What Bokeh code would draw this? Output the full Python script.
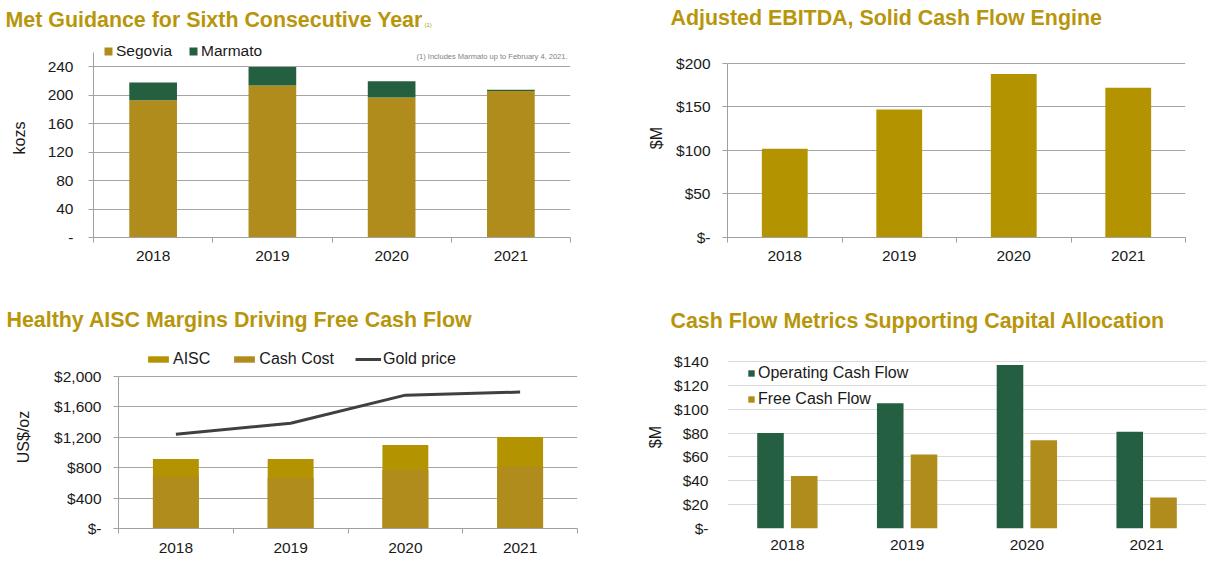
from bokeh.plotting import figure
from bokeh.models import Range1d, FixedTicker, Label, Legend, LegendItem, ColumnDataSource
from bokeh.layouts import column, row
from bokeh.transform import dodge
from bokeh.embed import file_html
from bokeh.resources import INLINE

# ---------------- data ----------------
years = ["2018", "2019", "2020", "2021"]

segovia = [193, 214, 197, 206]
marmato = [25, 26, 23, 2]

ebitda = [102, 147, 188, 172]

aisc = [915, 915, 1100, 1205]
cash_cost = [680, 665, 770, 820]
gold_price = [1240, 1385, 1755, 1795]

ocf = [80, 105, 137, 81]
fcf = [44, 62, 74, 26]

p1_ticks = [0, 40, 80, 120, 160, 200, 240]
p1_tick_labels = ["-", "40", "80", "120", "160", "200", "240"]
p2_ticks = [0, 50, 100, 150, 200]
p2_tick_labels = ["$-", "$50", "$100", "$150", "$200"]
p3_ticks = [0, 400, 800, 1200, 1600, 2000]
p3_tick_labels = ["$-", "$400", "$800", "$1,200", "$1,600", "$2,000"]
p4_ticks = [0, 20, 40, 60, 80, 100, 120, 140]
p4_tick_labels = ["$-", "$20", "$40", "$60", "$80", "$100", "$120", "$140"]

titles = ["Met Guidance for Sixth Consecutive Year",
          "Adjusted EBITDA, Solid Cash Flow Engine",
          "Healthy AISC Margins Driving Free Cash Flow",
          "Cash Flow Metrics Supporting Capital Allocation"]
footnote_mark = "(1)"
note = "(1) Includes Marmato up to February 4, 2021."

# ---------------- styles ----------------
FONT = "Liberation Sans"
GOLD_TITLE = "#B8960C"
SEG = "#AF8C1C"
MAR = "#24603F"
EBIT = "#B39300"
GREEN = "#245F42"
GRID = "#A6A6A6"
AXIS = "#A0A0A0"
TXT = "#1a1a1a"

xpos = [i + 0.5 for i in range(len(years))]
bounds = list(range(len(years) + 1))
xlabels = dict(zip(xpos, years))


def make_fig(w, h, left, right, top, bottom, yend, ybound, ticks, tlabels, ylab,
             ylab_standoff, ytick_standoff, xlab_standoff, axes=True, grid=GRID):
    p = figure(width=w, height=h, x_range=Range1d(0, len(years)),
               y_range=Range1d(0, yend), output_backend="svg",
               toolbar_location=None, min_border_left=left,
               min_border_right=right, min_border_top=top,
               min_border_bottom=bottom, outline_line_color=None)
    p.title.text = ""
    p.title.visible = False
    p.xgrid.visible = False
    p.ygrid.grid_line_color = grid
    p.ygrid.grid_line_width = 1
    # y axis
    ya = p.yaxis[0]
    ya.ticker = FixedTicker(ticks=ticks)
    ya.bounds = (0, ybound)
    ya.major_label_overrides = dict(zip(ticks, tlabels))
    ya.major_label_text_font = FONT
    ya.major_label_text_font_size = "15.5px"
    ya.major_label_text_color = TXT
    ya.major_label_standoff = ytick_standoff
    ya.minor_tick_line_color = None
    ya.major_tick_in = 0
    ya.axis_label = ylab
    ya.axis_label_text_font = FONT
    ya.axis_label_text_font_size = "16px"
    ya.axis_label_text_font_style = "normal"
    ya.axis_label_text_color = TXT
    ya.axis_label_standoff = ylab_standoff
    # x axis
    xa = p.xaxis[0]
    xa.ticker = FixedTicker(ticks=xpos, minor_ticks=bounds)
    xa.major_label_overrides = xlabels
    xa.major_label_text_font = FONT
    xa.major_label_text_font_size = "15.5px"
    xa.major_label_text_color = TXT
    xa.major_label_standoff = xlab_standoff
    xa.major_tick_in = 0
    xa.major_tick_out = 0
    xa.major_tick_line_color = None
    if axes:
        ya.axis_line_color = AXIS
        ya.major_tick_line_color = AXIS
        ya.major_tick_out = 5
        xa.axis_line_color = AXIS
        xa.minor_tick_line_color = AXIS
        xa.minor_tick_in = 0
        xa.minor_tick_out = 5
    else:
        ya.axis_line_color = None
        ya.major_tick_line_color = None
        ya.major_tick_out = 0
        xa.axis_line_color = None
        xa.minor_tick_line_color = None
    return p


def add_title(p, text, x, y):
    p.add_layout(Label(x=x, y=y, x_units="screen", y_units="screen", text=text,
                       text_font=FONT, text_font_size="21.4px",
                       text_font_style="bold", text_color=GOLD_TITLE,
                       text_baseline="alphabetic"), "above")


def style_legend(lg, size, gw, gh, standoff, spacing, lh):
    lg.border_line_color = None
    lg.background_fill_alpha = 0
    lg.padding = 0
    lg.margin = 0
    lg.label_text_font = FONT
    lg.label_text_font_size = size
    lg.label_text_color = TXT
    lg.glyph_width = gw
    lg.glyph_height = gh
    lg.label_standoff = standoff
    lg.spacing = spacing
    lg.label_height = lh


# ---------------- panel 1 ----------------
p1 = make_fig(600, 283, 93, 30, 38, 46, 280, 260, p1_ticks, p1_tick_labels, "kozs",
              17, 15, 8)
src1 = ColumnDataSource(dict(x=xpos, segovia=segovia, marmato=marmato))
r1 = p1.vbar_stack(["segovia", "marmato"], x="x", width=0.4, source=src1,
                   color=[SEG, MAR], line_color=None)
lg1 = Legend(items=[LegendItem(label="Segovia", renderers=[r1[0]]),
                    LegendItem(label="Marmato", renderers=[r1[1]])],
             orientation="horizontal", location=(10, 177))
style_legend(lg1, "15.5px", 10, 10, 3, 16, 18)
p1.add_layout(lg1)
p1.add_layout(Label(x=331, y=14, x_units="screen", y_units="screen",
                    text=footnote_mark, text_font=FONT, text_font_size="6px",
                    text_color=GOLD_TITLE, text_baseline="alphabetic"), "above")
add_title(p1, titles[0], -88, 12.5)
p1.add_layout(Label(x=474, y=181, x_units="screen", y_units="screen", text=note,
                    text_font=FONT, text_font_size="7.5px", text_color="#7F7F7F",
                    text_align="right", text_baseline="alphabetic"))

# ---------------- panel 2 ----------------
p2 = make_fig(606, 283, 127, 21, 38, 46, 228.7, 200, p2_ticks, p2_tick_labels, "$M",
              8, 12, 8)
src2 = ColumnDataSource(dict(x=xpos, ebitda=ebitda))
p2.vbar(x="x", top="ebitda", width=0.4, source=src2, color=EBIT, line_color=None)
add_title(p2, titles[1], -57, 20.5)

# ---------------- panel 3 ----------------
p3 = make_fig(600, 284, 118, 23, 62, 39, 2408, 2000, p3_ticks, p3_tick_labels, "US$/oz",
              19, 12, 9)
src3 = ColumnDataSource(dict(x=xpos, aisc=aisc, cash=cash_cost, gold=gold_price))
ra = p3.vbar(x="x", top="aisc", width=0.4, source=src3, color=EBIT, line_color=None)
rc = p3.vbar(x="x", top="cash", width=0.4, source=src3, color=SEG, line_color=None)
rg = p3.line(x="x", y="gold", source=src3, line_color="#404040", line_width=3)
lg3 = Legend(items=[LegendItem(label="AISC", renderers=[ra]),
                    LegendItem(label="Cash Cost", renderers=[rc]),
                    LegendItem(label="Gold price", renderers=[rg])],
             orientation="horizontal", location=(27, 160))
style_legend(lg3, "16px", 26, 8, 2, 21, 18)
p3.add_layout(lg3)
add_title(p3, titles[2], -112, 25.5)

# ---------------- panel 4 ----------------
p4 = make_fig(606, 284, 127, 0, 62, 39, 153.4, 140, p4_ticks, p4_tick_labels, "$M",
              7, 19, 7, axes=False, grid="#D9D9D9")
src4 = ColumnDataSource(dict(x=xpos, ocf=ocf, fcf=fcf))
ro = p4.vbar(x=dodge("x", -0.141), top="ocf", width=0.222, source=src4,
             color=GREEN, line_color=None)
rf = p4.vbar(x=dodge("x", 0.141), top="fcf", width=0.222, source=src4,
             color=SEG, line_color=None)
lg4 = Legend(items=[LegendItem(label="Operating Cash Flow", renderers=[ro]),
                    LegendItem(label="Free Cash Flow", renderers=[rf])],
             orientation="vertical", location=(20, 117.5))
style_legend(lg4, "16px", 8, 8, 3, 3, 23)
p4.add_layout(lg4)
add_title(p4, titles[3], -57, 25)

layout = column(row(p1, p2), row(p3, p4))
open("out.html", "w").write(file_html(layout, INLINE))
